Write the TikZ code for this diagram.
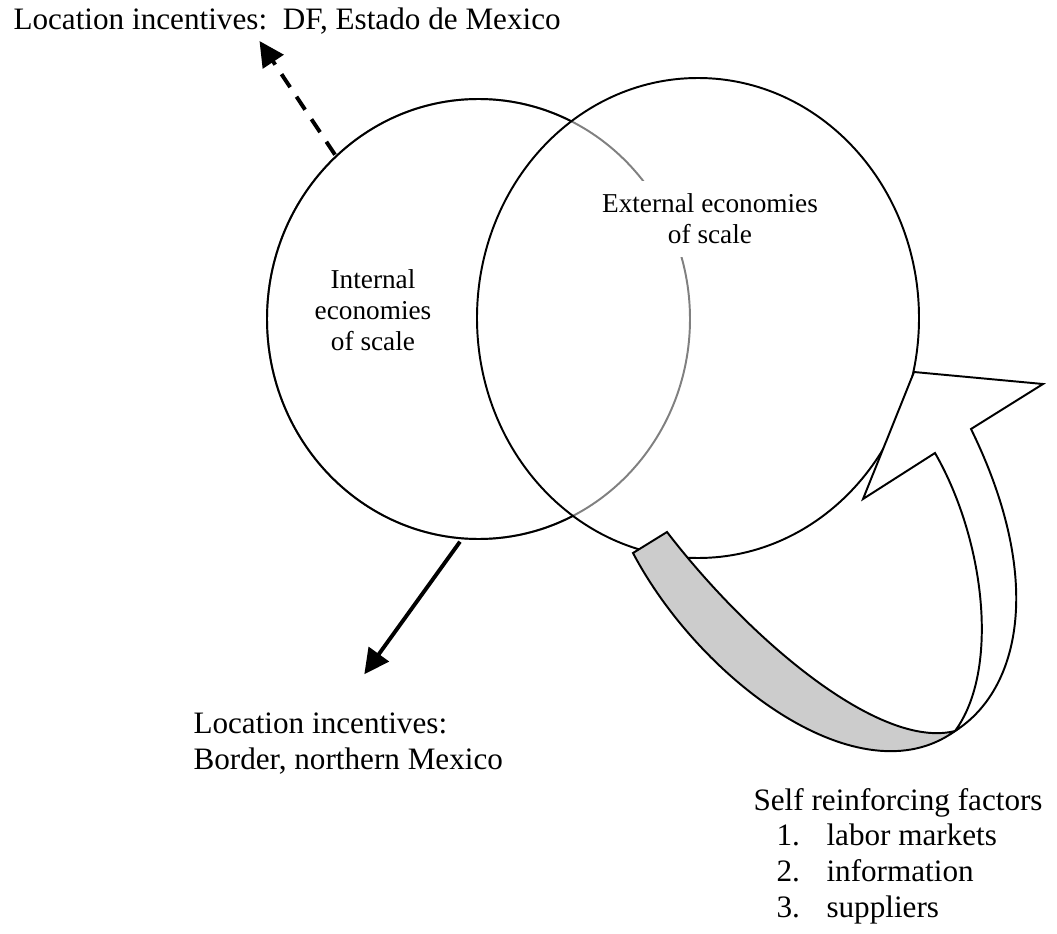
\documentclass[tikz,border=0pt]{standalone}
\usepackage{fontspec}
\setmainfont{Liberation Serif}
\usetikzlibrary{arrows.meta}

\begin{document}
\begin{tikzpicture}[
  x=0.385pt,y=-0.385pt,
  ring/.style={line width=0.75pt},
  overlap/.style={draw=black!50,line width=0.75pt},
  move/.style={-{Triangle[length=9.6pt,width=9.4pt]},line width=1.5pt},
  twist/.style={draw,line width=0.75pt,line join=miter},
  lbl/.style={inner sep=0pt,anchor=base west,align=left,font=\fontsize{12}{13.7}\selectfont},
  inlbl/.style={inner sep=0pt,align=center,font=\fontsize{10.5}{12}\selectfont}
]
  \useasboundingbox (0,0) rectangle (1057,934);
  % circles: internal (left) and external (right) economies
  \draw[overlap] (478.5,319) ellipse [x radius=211.5,y radius=220];
  \begin{scope}[even odd rule]
    \clip (0,0) rectangle (1057,934) (698,318) ellipse [x radius=221,y radius=240];
    \draw[ring] (478.5,319) ellipse [x radius=211.5,y radius=220];
  \end{scope}
  \draw[ring] (698,318) ellipse [x radius=221,y radius=240];

  \node[inlbl] (internal) at (373,310) {Internal\\economies\\of scale};
  \node[inlbl,fill=white,inner xsep=2pt,inner ysep=5pt] (external) at (710,219) {External economies\\of scale};

  % location incentives
  \coordinate (dfstart) at (335,154.7);
  \coordinate (dftip) at (259.5,41);
  \draw[move,dash pattern=on 6pt off 4.4pt] (dfstart) -- (dftip);
  \coordinate (borderstart) at (460,541.7);
  \coordinate (bordertip) at (364.3,674.3);
  \draw[move] (borderstart) -- (bordertip);

  \node[lbl] (dflbl) at (13,30) {Location incentives:\ \ DF, Estado de Mexico};
  \node[lbl] (borderlbl) at (193,769) {Location incentives:\\Border, northern Mexico};

  % self reinforcing loop
  \filldraw[twist,fill=black!20] (633,553) .. controls (700,680) and (860,800) .. (955,731)
    .. controls (880,750) and (750,640) .. (667,532) -- cycle;
  \filldraw[twist,fill=white] (955,731) .. controls (1020,690) and (1045,580) .. (971,429)
    -- (1043,384) -- (914,372) -- (863,499) -- (935,453)
    .. controls (985,540) and (1000,670) .. (955,731) -- cycle;

  \node[lbl] (selflbl) at (753,917) {Self reinforcing factors\\
    \hspace*{8.85pt}\makebox[19.25pt][l]{1.}labor markets\\
    \hspace*{8.85pt}\makebox[19.25pt][l]{2.}information\\
    \hspace*{8.85pt}\makebox[19.25pt][l]{3.}suppliers};
\end{tikzpicture}
\end{document}
